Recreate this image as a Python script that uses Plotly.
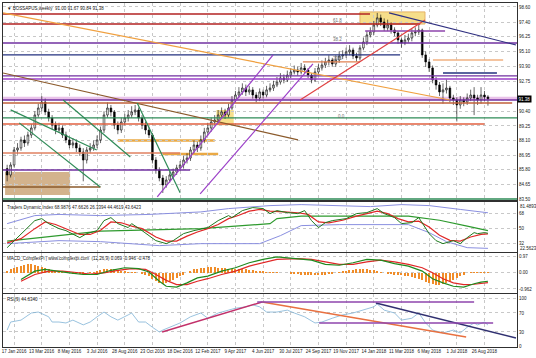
import plotly.graph_objects as go
from plotly.subplots import make_subplots

# ---------------- data ----------------
tick_weeks = [2, 10, 18, 26, 34, 42, 50, 58, 66, 74, 82, 90, 98, 106, 114, 122, 130, 138]
tick_labels = ["17 Jan 2016", "13 Mar 2016", "8 May 2016", "3 Jul 2016", "28 Aug 2016",
               "23 Oct 2016", "18 Dec 2016", "12 Feb 2017", "9 Apr 2017", "4 Jun 2017",
               "30 Jul 2017", "24 Sep 2017", "19 Nov 2017", "14 Jan 2018", "11 Mar 2018",
               "6 May 2018", "1 Jul 2018", "26 Aug 2018"]

price_ticks = [98.60, 97.40, 96.25, 95.10, 93.90, 92.75, 90.40, 89.25, 88.10, 86.95, 85.80, 84.65, 83.50]

opens = [85.90, 85.40, 86.18, 87.36, 87.52, 88.15, 87.91, 88.54, 89.09, 90.11,
         90.66, 91.13, 90.35, 89.88, 89.32, 88.93, 89.09, 88.54, 88.15, 87.75,
         87.91, 87.52, 87.20, 86.57, 87.36, 87.52, 87.75, 88.15, 88.93, 90.11,
         90.66, 90.35, 89.32, 88.93, 89.56, 89.88, 90.11, 90.35, 90.50, 89.88,
         89.32, 88.93, 88.54, 86.57, 85.79, 85.16, 84.61, 85.00, 85.40, 85.63,
         85.95, 86.18, 86.57, 86.73, 87.36, 87.75, 87.52, 88.15, 88.77, 89.09,
         89.56, 89.72, 90.11, 90.35, 90.11, 90.66, 91.29, 91.68, 91.92, 92.23,
         91.92, 92.08, 91.68, 91.45, 91.92, 91.68, 92.08, 92.23, 92.47, 92.70,
         93.02, 92.86, 93.25, 93.49, 93.65, 93.49, 93.81, 93.65, 93.25, 92.86,
         93.49, 93.81, 94.04, 94.28, 94.43, 94.12, 94.43, 94.75, 94.83, 95.06,
         95.22, 94.75, 94.59, 95.38, 95.85, 96.40, 96.63, 97.18, 97.74, 97.42,
         96.95, 97.18, 96.79, 96.56, 96.01, 95.77, 96.01, 96.16, 96.56, 96.63,
         96.79, 94.83, 94.28, 93.81, 92.86, 92.47, 91.92, 92.08, 92.23, 91.45,
         91.29, 90.90, 91.29, 91.13, 91.45, 91.68, 91.45, 91.29, 91.68, 91.53]
highs = [86.20, 86.40, 87.60, 87.90, 88.40, 88.50, 88.80, 89.40, 90.40, 91.00,
         91.60, 91.40, 90.60, 90.10, 89.60, 89.50, 89.30, 88.80, 88.40, 88.30,
         88.20, 87.80, 87.50, 87.60, 87.90, 88.10, 88.50, 89.20, 90.40, 91.10,
         90.90, 90.50, 89.60, 89.90, 90.20, 90.50, 90.80, 90.90, 90.70, 90.10,
         89.60, 89.20, 88.70, 86.80, 86.00, 85.40, 85.30, 85.70, 85.90, 86.20,
         86.50, 86.90, 87.10, 87.60, 88.10, 88.00, 88.50, 89.10, 89.50, 89.90,
         90.10, 90.50, 90.70, 90.60, 91.00, 91.60, 92.00, 92.30, 92.60, 92.50,
         92.40, 92.30, 91.90, 92.20, 92.10, 92.40, 92.60, 92.80, 93.10, 93.40,
         93.30, 93.60, 93.80, 94.00, 93.90, 94.20, 94.10, 93.80, 93.40, 93.80,
         94.10, 94.40, 94.60, 94.80, 94.60, 94.80, 95.10, 95.20, 95.40, 95.60,
         95.40, 95.00, 95.60, 96.20, 96.70, 97.00, 97.50, 98.13, 98.00, 97.70,
         97.60, 97.40, 97.00, 96.70, 96.20, 96.40, 96.50, 96.90, 97.00, 97.20,
         96.90, 95.10, 94.50, 94.00, 93.10, 92.70, 92.60, 92.90, 92.40, 91.70,
         91.50, 91.60, 91.50, 91.80, 92.10, 92.30, 91.70, 92.30, 92.00, 91.67]
lows = [84.90, 85.20, 86.00, 87.00, 87.30, 87.60, 87.70, 88.30, 88.90, 89.90,
        90.40, 90.10, 89.60, 89.00, 88.60, 88.70, 88.30, 87.90, 87.50, 87.50,
        87.20, 86.90, 84.90, 86.30, 87.10, 87.30, 87.50, 87.90, 88.70, 89.90,
        90.00, 89.00, 88.60, 88.70, 89.30, 89.60, 89.90, 90.10, 89.60, 89.00,
        88.60, 88.30, 86.30, 85.50, 84.90, 83.98, 84.40, 84.80, 85.20, 85.40,
        85.70, 85.90, 86.30, 86.50, 87.10, 87.20, 87.30, 87.90, 88.50, 88.80,
        89.30, 89.50, 89.90, 89.80, 89.90, 90.50, 91.10, 91.50, 91.70, 91.60,
        91.70, 91.40, 91.10, 91.20, 91.40, 91.50, 91.90, 92.00, 92.30, 92.50,
        92.60, 92.70, 93.00, 93.30, 93.20, 93.30, 93.40, 93.00, 92.60, 92.70,
        93.30, 93.60, 93.80, 94.00, 93.90, 93.90, 94.20, 94.50, 94.60, 94.80,
        94.50, 94.30, 94.40, 95.20, 95.60, 96.20, 96.40, 97.00, 97.10, 96.70,
        96.70, 96.50, 96.30, 95.70, 95.40, 95.60, 95.80, 95.90, 96.30, 96.40,
        94.60, 93.90, 93.50, 92.60, 92.10, 91.60, 91.00, 91.80, 91.10, 90.90,
        89.60, 90.60, 90.80, 90.90, 91.20, 90.10, 90.90, 91.00, 91.20, 90.84]
closes = [85.40, 86.18, 87.36, 87.52, 88.15, 87.91, 88.54, 89.09, 90.11, 90.66,
          91.13, 90.35, 89.88, 89.32, 88.93, 89.09, 88.54, 88.15, 87.75, 87.91,
          87.52, 87.20, 86.57, 87.36, 87.52, 87.75, 88.15, 88.93, 90.11, 90.66,
          90.35, 89.32, 88.93, 89.56, 89.88, 90.11, 90.35, 90.50, 89.88, 89.32,
          88.93, 88.54, 86.57, 85.79, 85.16, 84.61, 85.00, 85.40, 85.63, 85.95,
          86.18, 86.57, 86.73, 87.36, 87.75, 87.52, 88.15, 88.77, 89.09, 89.56,
          89.72, 90.11, 90.35, 90.11, 90.66, 91.29, 91.68, 91.92, 92.23, 91.92,
          92.08, 91.68, 91.45, 91.92, 91.68, 92.08, 92.23, 92.47, 92.70, 93.02,
          92.86, 93.25, 93.49, 93.65, 93.49, 93.81, 93.65, 93.25, 92.86, 93.49,
          93.81, 94.04, 94.28, 94.43, 94.12, 94.43, 94.75, 94.83, 95.06, 95.22,
          94.75, 94.59, 95.38, 95.85, 96.40, 96.63, 97.18, 97.74, 97.42, 96.95,
          97.18, 96.79, 96.56, 96.01, 95.77, 96.01, 96.16, 96.56, 96.63, 96.79,
          94.83, 94.28, 93.81, 92.86, 92.47, 91.92, 92.08, 92.23, 91.45, 91.29,
          90.90, 91.29, 91.13, 91.45, 91.68, 91.45, 91.29, 91.68, 91.53, 91.38]
weeks = list(range(len(closes)))

# horizontal levels on the price chart: price, first week, last week
level_price = [98.05, 97.26, 96.71, 95.77, 94.83, 94.43, 94.28, 93.41, 93.18, 92.94, 91.29, 91.05, 89.88, 89.40, 87.12, 85.79, 84.45, 83.51]
level_from = [-1.2, -1.2, 103.5, -1.2, -1.2, 123.1, 85.5, 126.0, -1.2, -1.2, -1.2, -1.2, -1.2, -1.2, -1.2, -1.2, -1.2, -1.2]
level_to = [104.9, 119.4, 126.6, 147.4, 113.6, 143.4, 102.0, 141.6, 147.4, 147.4, 147.4, 146.0, 147.4, 138.0, 50.0, 52.9, 27.0, 147.4]
level_color = ["#b22222", "#b22222", "#8e44ad", "#7030a0", "#23307f", "#f0b080", "#e08050", "#23307f", "#7030a0", "#9b3fc8", "#7030a0", "#c0603a", "#2e8b57", "#e06040", "#e08060", "#7030a0", "#8b5a2b", "#2e8b57"]

# trend lines on the price chart: (week0, price0, week1, price1)
trend_w0 = [-1.2, -1.2, 84.7, 110.4, 43.4, 55.8, 1.0, 3.5, 16.2, 37.6]
trend_p0 = [98.13, 93.41, 91.29, 98.13, 83.67, 83.91, 90.51, 89.49, 91.29, 91.05]
trend_w1 = [128.0, 84.1, 120.8, 147.1, 76.9, 88.4, 25.9, 26.9, 35.6, 50.0]
trend_p1 = [91.29, 88.15, 97.58, 95.61, 94.83, 94.12, 87.36, 84.45, 86.81, 84.00]
trend_color = ["#f0a040", "#8b5a2b", "#e04040", "#303080", "#9b3fc8", "#9b3fc8", "#2e8b57", "#2e8b57", "#2e8b57", "#2e8b57"]

# Traders Dynamic Index
tdi_rsi_w = [0, 4, 8, 10, 12, 15, 17, 21, 23, 26, 28, 30, 32, 35, 36, 39, 43, 46, 48, 51, 54, 58, 61, 64, 65, 68, 71, 74, 76, 78, 81, 84, 86, 88, 90, 92, 94, 98, 101, 104, 107, 109, 112, 114, 117, 119, 122, 124, 126, 129, 131, 133, 135, 136, 138, 139]
tdi_rsi_v = [27.2, 44.0, 59.6, 62.0, 56.0, 50.0, 47.6, 39.2, 44.0, 47.6, 59.6, 63.2, 56.0, 51.2, 56.0, 47.6, 35.6, 32.0, 35.6, 44.0, 47.6, 51.2, 59.6, 65.6, 63.2, 71.6, 75.2, 74.0, 68.0, 71.6, 69.2, 68.0, 71.6, 59.6, 51.2, 57.2, 59.6, 62.0, 68.0, 69.2, 74.0, 68.0, 63.2, 56.0, 57.2, 63.2, 44.0, 35.6, 32.0, 35.6, 32.0, 39.2, 45.2, 44.0, 45.2, 44.46]
tdi_sig_w = [0, 4, 8, 11, 14, 17, 21, 24, 27, 30, 33, 36, 39, 43, 46, 49, 52, 55, 58, 61, 64, 67, 70, 73, 76, 80, 84, 87, 90, 93, 97, 101, 104, 107, 110, 113, 116, 119, 122, 125, 128, 131, 134, 137, 139]
tdi_sig_v = [33, 38, 50, 58, 55, 50, 43, 43, 48, 58, 57, 53, 50, 40, 35, 35, 41, 46, 50, 55, 62, 66, 71, 73, 71, 70, 69, 67, 58, 57, 60, 65, 68, 71, 68, 62, 58, 59, 52, 42, 36, 35, 40, 43, 43.64]
tdi_up_w = [0, 8, 15, 27, 41, 56, 64, 76, 85, 96, 105, 114, 122, 131, 139]
tdi_up_v = [56, 65.6, 67, 65.6, 67, 70, 74, 77.6, 78.8, 77.6, 76.4, 78.8, 77.6, 73, 68.99]
tdi_lo_w = [0, 15, 27, 44, 56, 73, 79, 85, 96, 116, 122, 127, 133, 139]
tdi_lo_v = [32, 35.6, 34.4, 29.6, 32, 32, 41.6, 53.6, 54.8, 54.8, 45.2, 34.4, 27.2, 26.34]
tdi_base_w = [0, 27, 56, 76, 78, 85, 116, 125, 133, 139]
tdi_base_v = [35, 47, 50, 56, 62, 65, 65, 60, 53, 47.66]

# MACD
macd_w = [4, 8, 11, 14, 18, 22, 26, 30, 34, 38, 41, 44, 46, 49, 52, 55, 58, 62, 66, 70, 74, 78, 84, 88, 92, 96, 100, 104, 108, 112, 116, 120, 123, 126, 129, 132, 135, 137, 139]
macd_v = [-0.4, 0.1, 0.2, 0.1, 0.0, -0.1, -0.1, 0.15, 0.3, 0.25, 0.05, -0.5, -0.8, -0.85, -0.6, -0.3, -0.2, 0.1, 0.3, 0.6, 0.8, 0.95, 0.85, 0.75, 0.5, 0.45, 0.6, 0.8, 0.75, 0.55, 0.4, 0.1, -0.35, -0.6, -0.8, -0.85, -0.65, -0.55, -0.5]
macd_sig_w = [4, 8, 12, 16, 20, 24, 28, 32, 36, 40, 43, 46, 49, 52, 55, 58, 62, 66, 70, 74, 78, 84, 88, 92, 96, 100, 104, 108, 112, 116, 120, 123, 126, 129, 132, 135, 137, 139]
macd_sig_v = [-0.5, -0.1, 0.1, 0.1, 0.02, -0.08, 0.0, 0.15, 0.25, 0.2, -0.1, -0.45, -0.7, -0.7, -0.5, -0.35, -0.1, 0.1, 0.4, 0.6, 0.8, 0.85, 0.8, 0.65, 0.5, 0.5, 0.65, 0.75, 0.65, 0.5, 0.3, 0.0, -0.35, -0.6, -0.7, -0.68, -0.62, -0.58]
macd_hist = [0.1, 0.2, 0.3, 0.35,
             0.4, 0.45, 0.5, 0.5, 0.45, 0.4, 0.35, 0.3, 0.2,
             0.15, 0.1, 0.05, 0.05, 0.05, 0.0, -0.05, -0.05, -0.05, -0.05, 0.0, 0.05, 0.05,
             0.1, 0.15, 0.2, 0.25, 0.25, 0.2, 0.15, 0.1, 0.1, 0.05, 0.05, 0.05, 0.0, -0.05, -0.1,
             -0.2, -0.35, -0.5, -0.6, -0.65, -0.6, -0.5, -0.4, -0.3, -0.2, -0.1, 0.0, 0.1, 0.2, 0.25,
             0.3, 0.3, 0.35, 0.35, 0.35, 0.3, 0.3, 0.3, 0.25, 0.25, 0.25, 0.2, 0.2, 0.2, 0.15, 0.15, 0.1, 0.1, 0.1, 0.05,
             0.05, 0.05, 0.05, 0.0, 0.0, 0.0, -0.05, -0.05, -0.05, -0.1, -0.1, -0.1, -0.1, -0.15, -0.15, -0.1, -0.1, -0.05, -0.05, 0.0,
             0.05, 0.1, 0.1, 0.15, 0.15, 0.2, 0.2, 0.2, 0.2, 0.15, 0.15, 0.1, 0.05, 0.0, -0.05, -0.05, -0.1, -0.1, -0.15, -0.2,
             -0.2, -0.25, -0.3, -0.35, -0.45, -0.55, -0.6, -0.65, -0.7, -0.7, -0.65, -0.6, -0.5, -0.4, -0.3, -0.2, -0.1, 0.0, 0.05, 0.05, 0.05, 0.05, 0.05, 0.05]

# RSI(9)
rsi_w = [0, 1, 4, 7, 9, 12, 13, 15, 17, 19, 22, 24, 26, 28, 30, 32, 35, 36, 38, 40, 42, 44, 45, 47, 50, 53, 56, 58, 61, 64, 66, 69, 71, 73, 75, 78, 81, 83, 86, 89, 91, 94, 97, 100, 103, 106, 107, 109, 112, 114, 117, 119, 121, 123, 126, 129, 131, 133, 135, 136, 138, 139]
rsi_v = [34, 51, 55, 70, 72, 62, 51, 51, 49, 55, 45, 51, 62, 72, 62, 55, 66, 70, 51, 51, 40, 30, 34, 40, 49, 62, 70, 59, 70, 76, 80, 83, 87, 83, 72, 72, 76, 70, 62, 49, 51, 59, 66, 70, 76, 83, 89, 76, 70, 55, 59, 70, 49, 34, 28, 34, 28, 40, 49, 45, 51, 44.63]
rsi_line_w0 = [44.8, 73.7, 106.6, 72.3, 90.2]
rsi_line_v0 = [30.0, 93.2, 91.1, 93.2, 49.0]
rsi_line_w1 = [73.7, 132.7, 147.1, 135.0, 140.5]
rsi_line_v1 = [93.2, 19.5, 17.4, 93.2, 49.0]
rsi_line_color = ["#c2306a", "#e87040", "#303070", "#8e44ad", "#8e44ad"]

# ---------------- figure ----------------
FONT = "Liberation Sans"
fig = make_subplots(rows=4, cols=1, shared_xaxes=True, vertical_spacing=0.0)

fig.add_trace(go.Candlestick(x=weeks, open=opens, high=highs, low=lows, close=closes,
                             increasing=dict(line=dict(color="black", width=0.6), fillcolor="white"),
                             decreasing=dict(line=dict(color="black", width=0.6), fillcolor="black"),
                             whiskerwidth=0, showlegend=False), row=1, col=1)

# shaded boxes
fig.add_shape(type="rect", x0=-0.6, x1=18.2, y0=83.82, y1=85.63, xref="x", yref="y",
              fillcolor="#c8a070", opacity=0.8, line=dict(width=0), layer="below")
fig.add_shape(type="rect", x0=102, x1=120.8, y0=97.26, y1=98.21, xref="x", yref="y",
              fillcolor="#f5d76e", opacity=0.8, line=dict(color="#e0a040", width=1), layer="below")
fig.add_shape(type="rect", x0=-1.2, x1=147.4, y0=91.29, y1=91.55, xref="x", yref="y",
              fillcolor="#e0a8e0", opacity=0.7, line=dict(width=0), layer="below")
fig.add_shape(type="rect", x0=60.5, x1=65.5, y0=89.3, y1=90.5, xref="x", yref="y",
              fillcolor="#f5d76e", opacity=0.8, line=dict(width=0), layer="below")
fig.add_shape(type="rect", x0=32.0, x1=60.0, y0=88.0, y1=88.2, xref="x", yref="y",
              fillcolor="#e8a030", opacity=0.9, line=dict(width=0), layer="below")
fig.add_shape(type="rect", x0=45.0, x1=61.0, y0=86.95, y1=87.15, xref="x", yref="y",
              fillcolor="#e8a030", opacity=0.9, line=dict(width=0), layer="below")

for p, a, b, c in zip(level_price, level_from, level_to, level_color):
    fig.add_shape(type="line", x0=a, x1=b, y0=p, y1=p, xref="x", yref="y",
                  line=dict(color=c, width=1.4))
for a, p0, b, p1, c in zip(trend_w0, trend_p0, trend_w1, trend_p1, trend_color):
    fig.add_shape(type="line", x0=a, x1=b, y0=p0, y1=p1, xref="x", yref="y",
                  line=dict(color=c, width=1.2))

# TDI
fig.add_trace(go.Scatter(x=tdi_up_w, y=tdi_up_v, mode="lines", line=dict(color="#8a8fe0", width=1), showlegend=False), row=2, col=1)
fig.add_trace(go.Scatter(x=tdi_lo_w, y=tdi_lo_v, mode="lines", line=dict(color="#8a8fe0", width=1), showlegend=False), row=2, col=1)
fig.add_trace(go.Scatter(x=tdi_base_w, y=tdi_base_v, mode="lines", line=dict(color="#2e9a2e", width=1.2), showlegend=False), row=2, col=1)
fig.add_trace(go.Scatter(x=tdi_sig_w, y=tdi_sig_v, mode="lines", line=dict(color="#e02828", width=1.2), showlegend=False), row=2, col=1)
fig.add_trace(go.Scatter(x=tdi_rsi_w, y=tdi_rsi_v, mode="lines", line=dict(color="#1f7a1f", width=1), showlegend=False), row=2, col=1)

# MACD
fig.add_trace(go.Bar(x=weeks, y=macd_hist, marker=dict(color="#f08c28", line=dict(width=0)), width=0.35, showlegend=False), row=3, col=1)
fig.add_trace(go.Scatter(x=macd_sig_w, y=macd_sig_v, mode="lines", line=dict(color="#e02828", width=1.2), showlegend=False), row=3, col=1)
fig.add_trace(go.Scatter(x=macd_w, y=macd_v, mode="lines", line=dict(color="#1f8a1f", width=1.2), showlegend=False), row=3, col=1)

# RSI
for a, v0, b, v1, c in zip(rsi_line_w0, rsi_line_v0, rsi_line_w1, rsi_line_v1, rsi_line_color):
    fig.add_shape(type="line", x0=a, x1=b, y0=v0, y1=v1, xref="x4", yref="y4",
                  line=dict(color=c, width=1.4))
fig.add_trace(go.Scatter(x=rsi_w, y=rsi_v, mode="lines", line=dict(color="#7fb3d5", width=0.8), showlegend=False), row=4, col=1)

# axes
grid = dict(showgrid=True, gridcolor="#c8c8c8", griddash="dot", gridwidth=1,
            showline=True, mirror=True, linecolor="#303030", linewidth=1, zeroline=False,
            tickfont=dict(family=FONT, size=4.5, color="#202020"), ticks="")
xr = [-1.2, 147.4]
for i in range(1, 5):
    fig.update_xaxes(range=xr, tickvals=tick_weeks, ticktext=tick_labels, tickangle=0,
                     showticklabels=(i == 4), rangeslider=dict(visible=False), row=i, col=1, **grid)
fig.update_yaxes(side="right", range=[83.43, 98.91], tickvals=price_ticks,
                 ticktext=[f"{v:.2f}" for v in price_ticks], domain=[0.4273, 1.0], row=1, col=1, **grid)
fig.update_yaxes(side="right", range=[22.0, 81.9], tickvals=[32, 50, 68],
                 ticktext=["32", "50", "68"], domain=[0.2762, 0.4215], row=2, col=1, **grid)
fig.update_yaxes(side="right", range=[-1.2, 1.18], tickvals=[-0.962, 0.0, 0.97],
                 ticktext=["-0.962", "0.00", "0.97"], domain=[0.157, 0.2733], row=3, col=1, **grid)
fig.update_yaxes(side="right", range=[-1.6, 110], tickvals=[0, 30, 70, 100],
                 ticktext=["0", "30", "70", "100"], domain=[0.0, 0.1541], row=4, col=1, **grid)

# texts
small = dict(family=FONT, size=4.5, color="#202020")
ann = []
ann.append(dict(xref="paper", yref="paper", x=0.003, y=0.997, xanchor="left", yanchor="top",
                text="▼ BOSSAPUS,weekly  91.00 91.67 90.84 91.38", showarrow=False, font=small))
ann.append(dict(xref="paper", yref="paper", x=0.003, y=0.418, xanchor="left", yanchor="top",
                text="Traders Dynamic Index 68.9876 47.6626 26.3394 44.4619 43.6423", showarrow=False, font=small))
ann.append(dict(xref="paper", yref="paper", x=0.003, y=0.270, xanchor="left", yanchor="top",
                text="MACD_ComplexPi | www.complexpi.com  (12,26,9) 0.069 -0.946 -0.478", showarrow=False, font=small))
ann.append(dict(xref="paper", yref="paper", x=0.003, y=0.151, xanchor="left", yanchor="top",
                text="RSI(9) 44.6340", showarrow=False, font=small))
ann.append(dict(xref="paper", yref="paper", x=1.0, y=0.4195, xanchor="left", yanchor="top", xshift=2,
                text="81.4893", showarrow=False, font=small, borderpad=0))
ann.append(dict(xref="paper", yref="paper", x=1.0, y=0.2762, xanchor="left", yanchor="bottom", xshift=2,
                text="22.5623", showarrow=False, font=small, borderpad=0))
for t, w, p in [("61.8", 93.5, 97.55), ("38.2", 93.5, 96.05), ("23.6", 93.5, 94.55), ("0.0", 95.0, 89.98)]:
    ann.append(dict(xref="x", yref="y", x=w, y=p, text=t, showarrow=False, xanchor="left",
                    font=dict(family=FONT, size=4.5, color="#707070")))
ann.append(dict(xref="paper", yref="y", x=1.0, y=91.38, xanchor="left", text="91.38", showarrow=False,
                bgcolor="#000000", font=dict(family=FONT, size=4.5, color="white"), borderpad=0.5))
fig.update_layout(annotations=ann)

fig.update_layout(width=536, height=358, margin=dict(l=3, r=19, t=3, b=11),
                  paper_bgcolor="white", plot_bgcolor="white", bargap=0,
                  font=dict(family=FONT, size=4.5))
fig.write_html("out.html", config={"displayModeBar": False},
               post_script="document.body.style.margin='0px';document.body.style.overflow='hidden';")
